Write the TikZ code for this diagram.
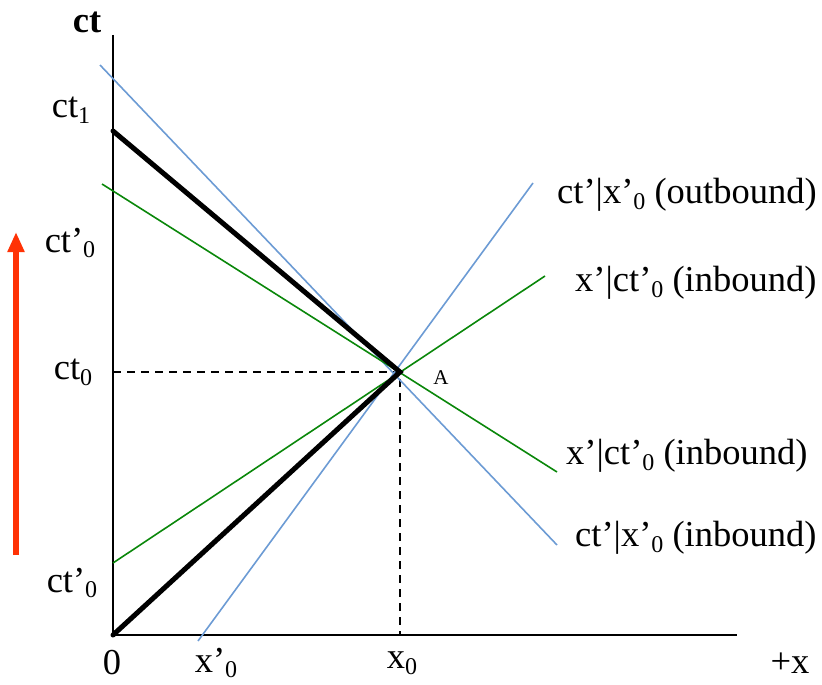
\documentclass[tikz,border=0pt]{standalone}
\usepackage{fontspec}
\setmainfont{Liberation Serif}
\usetikzlibrary{arrows.meta}
\definecolor{lineblue}{RGB}{108,155,212}
\definecolor{linegreen}{RGB}{10,135,10}
\definecolor{arrowred}{RGB}{255,50,5}
\newcommand\lowsub[1]{\raisebox{-0.16em}{\fontsize{24}{26}\selectfont #1}}
\begin{document}
\begin{tikzpicture}[x=1pt,y=-1pt,
  lbl/.style={inner sep=0pt,font=\fontsize{36.5}{42}\selectfont},
  axisline/.style={line width=2pt,black},
  worldline/.style={line width=5pt,black},
  blueline/.style={line width=1.6pt,lineblue},
  greenline/.style={line width=1.6pt,linegreen},
  guide/.style={line width=1.8pt,dash pattern=on 8pt off 6pt}]
\useasboundingbox (0,0) rectangle (822,685);
% key points
\coordinate (O) at (113,635);
\coordinate (ytop) at (113,35);
\coordinate (xend) at (737,635);
\coordinate (A) at (400,372);
\coordinate (ct1) at (113,131);
\coordinate (ctA) at (113,372);
\coordinate (xA) at (400,635);
\coordinate (bi1) at (100,65);
\coordinate (bi2) at (557,545);
\coordinate (bo1) at (198,641);
\coordinate (bo2) at (533,183);
\coordinate (gi1) at (102,184);
\coordinate (gi2) at (557,472);
\coordinate (go1) at (113,563);
\coordinate (go2) at (545,276);
\coordinate (r1) at (16,555);
\coordinate (r2) at (16,232);
% axes
\draw[axisline] (ytop) -- (O) -- (xend);
% guides
\draw[guide] (ctA) -- (A) -- (xA);
% light lines
\draw[blueline] (bi1) -- (bi2);
\draw[blueline] (bo1) -- (bo2);
\draw[greenline] (gi1) -- (gi2);
\draw[greenline] (go1) -- (go2);
% world lines
\draw[worldline,line cap=round] (ct1) -- (A) -- (O);
% red arrow
\draw[arrowred,line width=6pt,-{Triangle[length=20pt,width=16pt]}] (r1) -- (r2);
% labels
\node[lbl,font=\fontsize{36.5}{42}\selectfont\bfseries] (lct) at (87,22) {ct};
\node[lbl] (lct1) at (71,110) {ct\lowsub{1}};
\node[lbl] (lctp0a) at (70,243) {ct’\lowsub{0}};
\node[lbl] (lct0) at (73,372) {ct\lowsub{0}};
\node[lbl] (lctp0b) at (72,583) {ct’\lowsub{0}};
\node[lbl] (l0) at (112,663) {0};
\node[lbl] (lxp0) at (216,663) {x’\lowsub{0}};
\node[lbl] (lx0) at (402,663) {x\lowsub{0}};
\node[lbl] (lpx) at (790,663) {+x};
\node[lbl,font=\fontsize{21}{24}\selectfont] (lA) at (441,378) {A};
\node[lbl,anchor=west] (l1) at (557,195) {ct’|x’\lowsub{0} (outbound)};
\node[lbl,anchor=west] (l2) at (575,283) {x’|ct’\lowsub{0} (inbound)};
\node[lbl,anchor=west] (l3) at (566,456) {x’|ct’\lowsub{0} (inbound)};
\node[lbl,anchor=west] (l4) at (575,538) {ct’|x’\lowsub{0} (inbound)};
\end{tikzpicture}
\end{document}
